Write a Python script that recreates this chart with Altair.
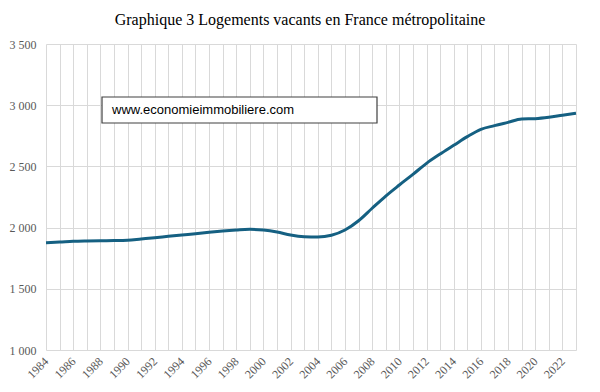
import altair as alt
import pandas as pd

years = list(range(1984, 2024))
vacants = [1877, 1882, 1888, 1891, 1893, 1894, 1897, 1907, 1917, 1929,
           1940, 1950, 1962, 1972, 1980, 1986, 1980, 1964, 1940, 1926,
           1923, 1937, 1980, 2056, 2158, 2258, 2348, 2435, 2525, 2601,
           2672, 2743, 2803, 2833, 2860, 2887, 2890, 2901, 2918, 2934]
y_ticks = [1000, 1500, 2000, 2500, 3000, 3500]
title_text = "Graphique 3 Logements vacants en France métropolitaine"
note_text = "www.economieimmobiliere.com"

df = pd.DataFrame({"annee": years, "vacants": vacants})

serif = "Liberation Serif"
grid_col = "#d9d9d9"
label_col = "#595959"

x_enc = alt.X(
    "annee:Q",
    scale=alt.Scale(domain=[1984, 2023], nice=False, zero=False),
    axis=alt.Axis(
        values=years,
        labelExpr="datum.value % 2 == 0 ? toString(datum.value) : ''",
        labelAngle=-45,
        labelAlign="right",
        labelBaseline="middle",
        labelPadding=9,
        labelFont=serif,
        labelFontSize=12,
        labelColor=label_col,
        labelOverlap=False,
        labelFlush=False,
        ticks=False,
        domain=False,
        grid=True,
        gridColor=grid_col,
        title=None,
    ),
)
y_enc = alt.Y(
    "vacants:Q",
    scale=alt.Scale(domain=[1000, 3500], nice=False, zero=False),
    axis=alt.Axis(
        values=y_ticks,
        labelExpr="replace(format(datum.value, ','), ',', ' ')",
        labelPadding=10,
        labelFont=serif,
        labelFontSize=12,
        labelColor=label_col,
        ticks=False,
        domain=False,
        grid=True,
        gridColor=grid_col,
        title=None,
    ),
)

line = alt.Chart(df).mark_line(
    color="#156082", strokeWidth=3, interpolate="monotone"
).encode(x=x_enc, y=y_enc)

box = alt.Chart(df.head(1)).mark_rect(
    fill="white", stroke="#404040", strokeWidth=1.2
).encode(
    x=alt.value(56), x2=alt.value(331), y=alt.value(53), y2=alt.value(79)
)

note = alt.Chart(pd.DataFrame({"t": [note_text]})).mark_text(
    font="Liberation Sans", fontSize=13, align="left", baseline="alphabetic", color="black"
).encode(x=alt.value(66), y=alt.value(70), text="t:N")

chart = alt.layer(line, box, note).properties(
    width=530,
    height=306,
    title=alt.TitleParams(
        title_text,
        font=serif,
        fontSize=16,
        fontWeight="normal",
        color="black",
        anchor="middle",
        dx=-11,
        offset=10,
    ),
    autosize=alt.AutoSizeParams(type="none"),
    padding={"left": 38, "top": 36, "right": 16, "bottom": 34},
).configure(font=serif).configure_axis(
    labelFont=serif
).configure_view(strokeWidth=0)

chart.save("out.html", embed_options={"renderer": "svg", "actions": False})
